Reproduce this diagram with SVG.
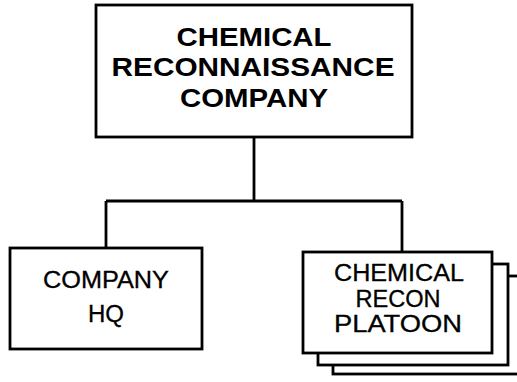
<svg xmlns="http://www.w3.org/2000/svg" width="517" height="382" viewBox="0 0 517 382">
<style>
.box{fill:#fff;stroke:#000;stroke-width:2.8}
.ln{fill:none;stroke:#000;stroke-width:2.8}
.tb{font-family:"Liberation Sans",Arial,sans-serif;font-weight:bold;font-size:26.5px;text-anchor:middle;fill:#000}
.t{font-family:"Liberation Sans",Arial,sans-serif;font-size:23px;text-anchor:middle;fill:#000;stroke:#000;stroke-width:0.3}
</style>
<rect width="517" height="382" fill="#fff"/>
<g id="connectors">
<path class="ln" d="M254,137 V201 M106,201 H402 M106,201 V248 M402,201 V252"/>
</g>
<g id="company">
<rect class="box" x="96" y="5" width="316" height="132"/>
<text class="tb" x="254" y="46" textLength="155" lengthAdjust="spacingAndGlyphs">CHEMICAL</text>
<text class="tb" x="253" y="76" textLength="283" lengthAdjust="spacingAndGlyphs">RECONNAISSANCE</text>
<text class="tb" x="254" y="107" textLength="148" lengthAdjust="spacingAndGlyphs">COMPANY</text>
</g>
<g id="hq">
<rect class="box" x="10" y="248" width="192" height="101"/>
<text class="t" x="106" y="288" textLength="126" lengthAdjust="spacingAndGlyphs">COMPANY</text>
<text class="t" x="106" y="322" textLength="36" lengthAdjust="spacingAndGlyphs">HQ</text>
</g>
<g id="platoon">
<rect class="box" x="333" y="276" width="192" height="98"/>
<rect class="box" x="318" y="264" width="190" height="101"/>
<rect class="box" x="303" y="252" width="189" height="101"/>
<text class="t" x="399" y="281" textLength="130" lengthAdjust="spacingAndGlyphs">CHEMICAL</text>
<text class="t" x="398" y="307" textLength="85" lengthAdjust="spacingAndGlyphs">RECON</text>
<text class="t" x="398" y="332" textLength="128" lengthAdjust="spacingAndGlyphs">PLATOON</text>
</g>
</svg>
